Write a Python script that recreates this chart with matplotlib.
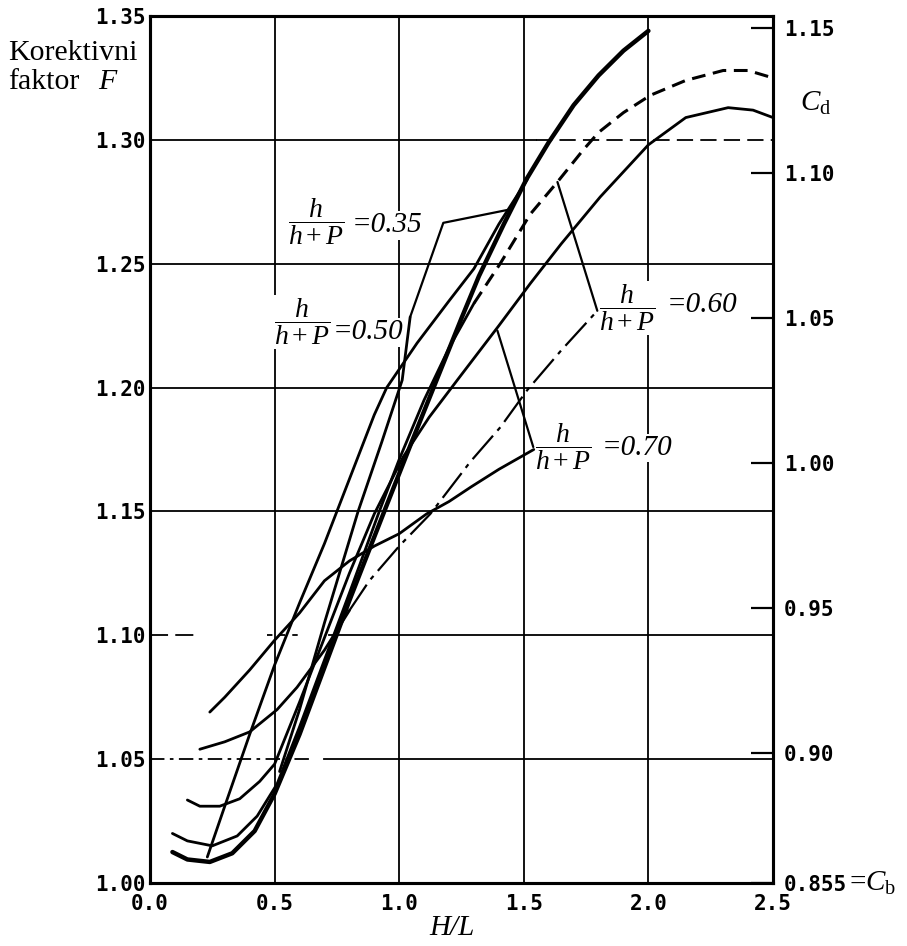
import matplotlib
matplotlib.use("Agg")
import matplotlib.pyplot as plt

plt.rcParams['mathtext.fontset'] = 'custom'
plt.rcParams['mathtext.rm'] = 'Liberation Serif'
plt.rcParams['mathtext.it'] = 'Liberation Serif:italic'
plt.rcParams['mathtext.bf'] = 'Liberation Serif:bold'

# ---- data (H/L, F) ----
# thick curve, ends at H/L = 2.0
thick_x = [0.09, 0.15, 0.24, 0.33, 0.42, 0.5, 0.6, 0.7, 0.8, 0.94, 1.05, 1.15, 1.25,
           1.32, 1.42, 1.51, 1.6, 1.7, 1.8, 1.9, 2.0]
thick_f = [1.0125, 1.0095, 1.0085, 1.012, 1.021, 1.036, 1.06, 1.087, 1.114, 1.15, 1.178,
           1.203, 1.228, 1.245, 1.266, 1.284, 1.299, 1.314, 1.326, 1.336, 1.344]

# curve continued as dashed line up to H/L = 2.5
dash_solid_x = [0.09, 0.15, 0.25, 0.35, 0.43, 0.51, 0.6, 0.7, 0.8, 0.92, 1.0, 1.1, 1.2, 1.3]
dash_solid_f = [1.020, 1.017, 1.015, 1.019, 1.027, 1.040, 1.063, 1.09, 1.117, 1.15, 1.171,
                1.195, 1.216, 1.234]
dash_x = [1.3, 1.405, 1.526, 1.635, 1.739, 1.8, 1.9, 2.008, 2.15, 2.3, 2.4, 2.5]
dash_f = [1.234, 1.25, 1.27, 1.283, 1.296, 1.303, 1.311, 1.318, 1.324, 1.328, 1.328, 1.325]

# solid curve ending at H/L = 2.5
long_x = [0.15, 0.2, 0.28, 0.36, 0.44, 0.5, 0.6, 0.7, 0.8, 0.9, 1.016, 1.12, 1.233, 1.4,
          1.526, 1.65, 1.807, 2.0, 2.15, 2.32, 2.42, 2.5]
long_f = [1.0335, 1.031, 1.031, 1.034, 1.041, 1.048, 1.073, 1.099, 1.125, 1.149, 1.172,
          1.188, 1.203, 1.225, 1.242, 1.258, 1.277, 1.298, 1.309, 1.313, 1.312, 1.309]

# flat curve (0.70)
flat_x = [0.24, 0.3, 0.4, 0.5, 0.6, 0.7, 0.8, 0.9, 1.0, 1.11, 1.2, 1.29, 1.4, 1.54]
flat_f = [1.069, 1.075, 1.086, 1.098, 1.109, 1.122, 1.13, 1.136, 1.141, 1.149, 1.154,
          1.16, 1.167, 1.175]

# curve going to the 0.60 label (dash-dot upper part)
low_x = [0.2, 0.3, 0.4, 0.51, 0.59, 0.7, 0.8]
low_f = [1.054, 1.057, 1.061, 1.07, 1.079, 1.094, 1.11]
dashdot_x = [0.8, 0.88, 1.0, 1.125, 1.285, 1.406, 1.514, 1.65, 1.795]
dashdot_f = [1.11, 1.122, 1.136, 1.149, 1.17, 1.184, 1.199, 1.215, 1.231]

# steep line (0.50)
steep_x = [0.23, 0.3, 0.4, 0.5, 0.6, 0.7, 0.8, 0.9, 0.95, 1.072, 1.2, 1.3, 1.4, 1.514]
steep_f = [1.0105, 1.031, 1.06, 1.088, 1.113, 1.137, 1.163, 1.189, 1.2, 1.218, 1.235,
           1.248, 1.266, 1.284]

# steep line from the node at H/L = 0.5
node_x = [0.52, 0.6, 0.7, 0.835, 0.93, 1.012, 1.044]
node_f = [1.045, 1.07, 1.105, 1.15, 1.178, 1.203, 1.2285]

# leader lines
lead35_x = [1.044, 1.177, 1.434]
lead35_f = [1.2285, 1.2665, 1.2717]
lead60_x = [1.635, 1.795]
lead60_f = [1.283, 1.231]
lead70_x = [1.394, 1.538]
lead70_f = [1.223, 1.176]

x_ticks = [0.0, 0.5, 1.0, 1.5, 2.0, 2.5]
f_ticks = [1.00, 1.05, 1.10, 1.15, 1.20, 1.25, 1.30, 1.35]
cd_ticks = [0.855, 0.90, 0.95, 1.00, 1.05, 1.10, 1.15]
cb = 0.855

fig = plt.figure(figsize=(9.07, 9.46), dpi=100)
ax = fig.add_axes([150 / 907, 1 - 883 / 946, 623 / 907, 867 / 946])
ax.set_xlim(0, 2.5)
ax.set_ylim(1.0, 1.35)

# grid
gkw = dict(color='black', lw=1.3, zorder=1)
for gx in [0.5, 1.0, 1.5, 2.0]:
    ax.axvline(gx, **gkw)
for gy in [1.15, 1.20, 1.25]:
    ax.axhline(gy, **gkw)
ax.plot([0, 0.65], [1.05, 1.05], dashes=(8, 3, 2, 3), **gkw)
ax.plot([0.7, 2.5], [1.05, 1.05], **gkw)
ax.plot([0, 0.2], [1.10, 1.10], dashes=(10, 4), **gkw)
ax.plot([0.47, 0.6], [1.10, 1.10], dashes=(3, 4), **gkw)
ax.plot([0.72, 2.5], [1.10, 1.10], **gkw)
ax.plot([0, 1.55], [1.30, 1.30], **gkw)
ax.plot([1.55, 2.5], [1.30, 1.30], dashes=(9, 4), **gkw)

# curves
ck = dict(color='black', solid_capstyle='round', zorder=3)
ax.plot(thick_x, thick_f, lw=3.2, **ck)
ax.plot(dash_solid_x, dash_solid_f, lw=2.0, **ck)
ax.plot(dash_x, dash_f, lw=2.2, dashes=(4.5, 2.5), color='black', zorder=3)
ax.plot(long_x, long_f, lw=2.0, **ck)
ax.plot(flat_x, flat_f, lw=2.0, **ck)
ax.plot(low_x, low_f, lw=2.0, **ck)
ax.plot(dashdot_x, dashdot_f, lw=1.6, dashes=(14, 3, 2, 3), color='black', zorder=3)
ax.plot(steep_x, steep_f, lw=2.0, **ck)
ax.plot(node_x, node_f, lw=2.0, **ck)
ax.plot(lead35_x, lead35_f, lw=1.6, **ck)
ax.plot(lead60_x, lead60_f, lw=1.6, **ck)
ax.plot(lead70_x, lead70_f, lw=1.6, **ck)

# labels h/(h+P)
frac = r'$\dfrac{h}{h+P}$'
box = dict(facecolor='white', edgecolor='none', pad=1)
for fx, fy, ex, ey, txt in [(0.666, 1.2669, 0.811, 1.2656, '=0.35'),
                            (0.61, 1.2265, 0.734, 1.2224, '=0.50'),
                            (1.914, 1.2321, 2.075, 1.2333, '=0.60'),
                            (1.657, 1.176, 1.814, 1.1756, '=0.70')]:
    ax.text(fx, fy, frac, ha='center', va='center', fontsize=20, zorder=2.5, bbox=box)
    ax.text(ex, ey, txt, ha='left', va='center', family='Liberation Serif',
            style='italic', fontsize=21, zorder=2.5, bbox=box)

# axes styling
tick_font = dict(family='DejaVu Sans Mono', weight='bold', size=15)
ax.set_xticks(x_ticks)
ax.set_xticklabels([f'{v:.1f}' for v in x_ticks], fontdict=tick_font)
ax.set_yticks(f_ticks)
ax.set_yticklabels([f'{v:.2f}' for v in f_ticks], fontdict=tick_font)
ax.tick_params(axis='x', length=0, pad=8)
ax.tick_params(axis='y', length=0, pad=3.5)
for s in ax.spines.values():
    s.set_linewidth(2.2)

ax2 = ax.twinx()
ax2.set_ylim(cb * 1.0, cb * 1.35)
ax2.set_yticks(cd_ticks)
ax2.set_yticklabels(['0.855'] + [f'{v:.2f}' for v in cd_ticks[1:]], fontdict=tick_font)
ax2.tick_params(axis='y', direction='in', length=16, width=1.6, pad=8)
for s in ax2.spines.values():
    s.set_linewidth(2.2)

ax2.text(1.122, 0.0, r'=$C_\mathrm{b}$', transform=ax2.transAxes, ha='left', va='center',
         family='Liberation Serif', fontsize=21)
ax2.text(1.043, 0.90, r'$C_\mathrm{d}$', transform=ax2.transAxes, ha='left', va='center',
         fontsize=21)

fig.text(8 / 907, 1 - 60 / 946, 'Korektivni', family='Liberation Serif', fontsize=21.5,
         va='baseline')
fig.text(8 / 907, 1 - 89 / 946, 'faktor', family='Liberation Serif', fontsize=21.5,
         va='baseline')
fig.text(98 / 907, 1 - 89 / 946, 'F', family='Liberation Serif', style='italic',
         fontsize=21.5, va='baseline')
fig.text(452 / 907, 1 - 928 / 946, 'H/L', family='Liberation Serif', style='italic',
         fontsize=21, ha='center', va='center')

fig.savefig('out.png', dpi=100)
